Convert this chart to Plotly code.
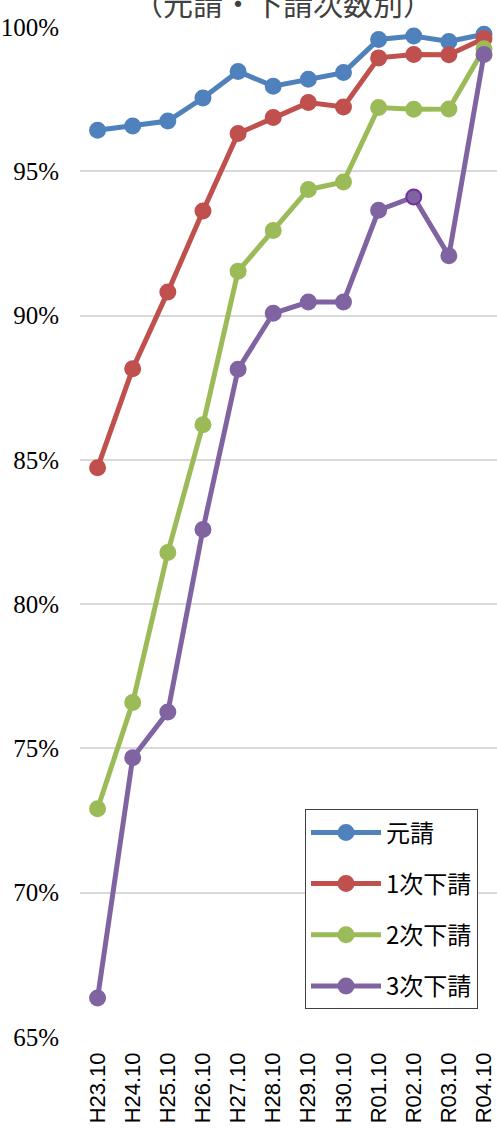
import plotly.graph_objects as go

# Survey rounds (October of each year)
periods = ["H23.10", "H24.10", "H25.10", "H26.10", "H27.10", "H28.10",
           "H29.10", "H30.10", "R01.10", "R02.10", "R03.10", "R04.10"]

# Enrolment rate (%) by contract tier
prime = [96.42, 96.57, 96.74, 97.54, 98.46, 97.95, 98.19, 98.42, 99.57, 99.69, 99.50, 99.75]
sub1 = [84.73, 88.16, 90.82, 93.62, 96.31, 96.86, 97.38, 97.23, 98.93, 99.05, 99.04, 99.60]
sub2 = [72.91, 76.59, 81.79, 86.22, 91.54, 92.95, 94.37, 94.63, 97.21, 97.15, 97.16, 99.25]
sub3 = [66.35, 74.68, 76.26, 82.59, 88.14, 90.08, 90.47, 90.47, 93.65, 94.11, 92.07, 99.05]

series_names = ["元請", "1次下請", "2次下請", "3次下請"]
series_values = [prime, sub1, sub2, sub3]
series_colors = ["#4F81BD", "#C0504D", "#9BBB59", "#8064A2"]

y_ticks = [65, 70, 75, 80, 85, 90, 95, 100]
y_tick_text = [f"{v}%" for v in y_ticks]

fig = go.Figure()
for i, (name, vals, col) in enumerate(zip(series_names, series_values, series_colors)):
    line_cols = [col] * len(vals)
    if name == "3次下請":
        line_cols[periods.index("R02.10")] = "#7030A0"
    fig.add_trace(go.Scatter(
        x=periods, y=vals, name=name, mode="lines+markers",
        line=dict(color=col, width=5),
        marker=dict(color=col, size=15, line=dict(color=line_cols, width=2)),
        legendgroup=f"g{i}",
        cliponaxis=False,
    ))

fig.add_annotation(
    text="（元請・下請次数別）", xref="paper", yref="paper",
    x=0.486, y=1.0245, xanchor="center", yanchor="middle", showarrow=False,
    font=dict(family="Noto Sans CJK JP", size=30, color="#404040"),
)

fig.update_layout(
    width=497, height=1128,
    margin=dict(l=80, r=0, t=27, b=91),
    paper_bgcolor="white", plot_bgcolor="white",
    showlegend=True,
    legend=dict(
        x=(305 - 80) / 417, y=(1036.7 - 809) / 1010, xanchor="left", yanchor="top",
        bgcolor="white", bordercolor="#404040", borderwidth=1,
        font=dict(family="Noto Sans CJK JP", size=24, color="#000000"),
        traceorder="grouped", tracegroupgap=17, itemwidth=70,
        entrywidth=190, entrywidthmode="pixels",
    ),
    xaxis=dict(
        type="category", range=[-0.5, 11.37], showgrid=False, zeroline=False,
        showline=False, tickangle=-90, ticks="", ticklabelstandoff=10,
        tickfont=dict(family="Liberation Sans", size=22, color="#000000"),
    ),
    yaxis=dict(
        range=[65, 100], tickvals=y_ticks, ticktext=y_tick_text,
        showgrid=True, gridcolor="#D9D9D9", gridwidth=1.5, zeroline=False,
        showline=False, ticks="", ticklabelstandoff=20,
        tickfont=dict(family="Liberation Sans Narrow", size=25, color="#000000"),
    ),
)

fig.write_html("out.html")
